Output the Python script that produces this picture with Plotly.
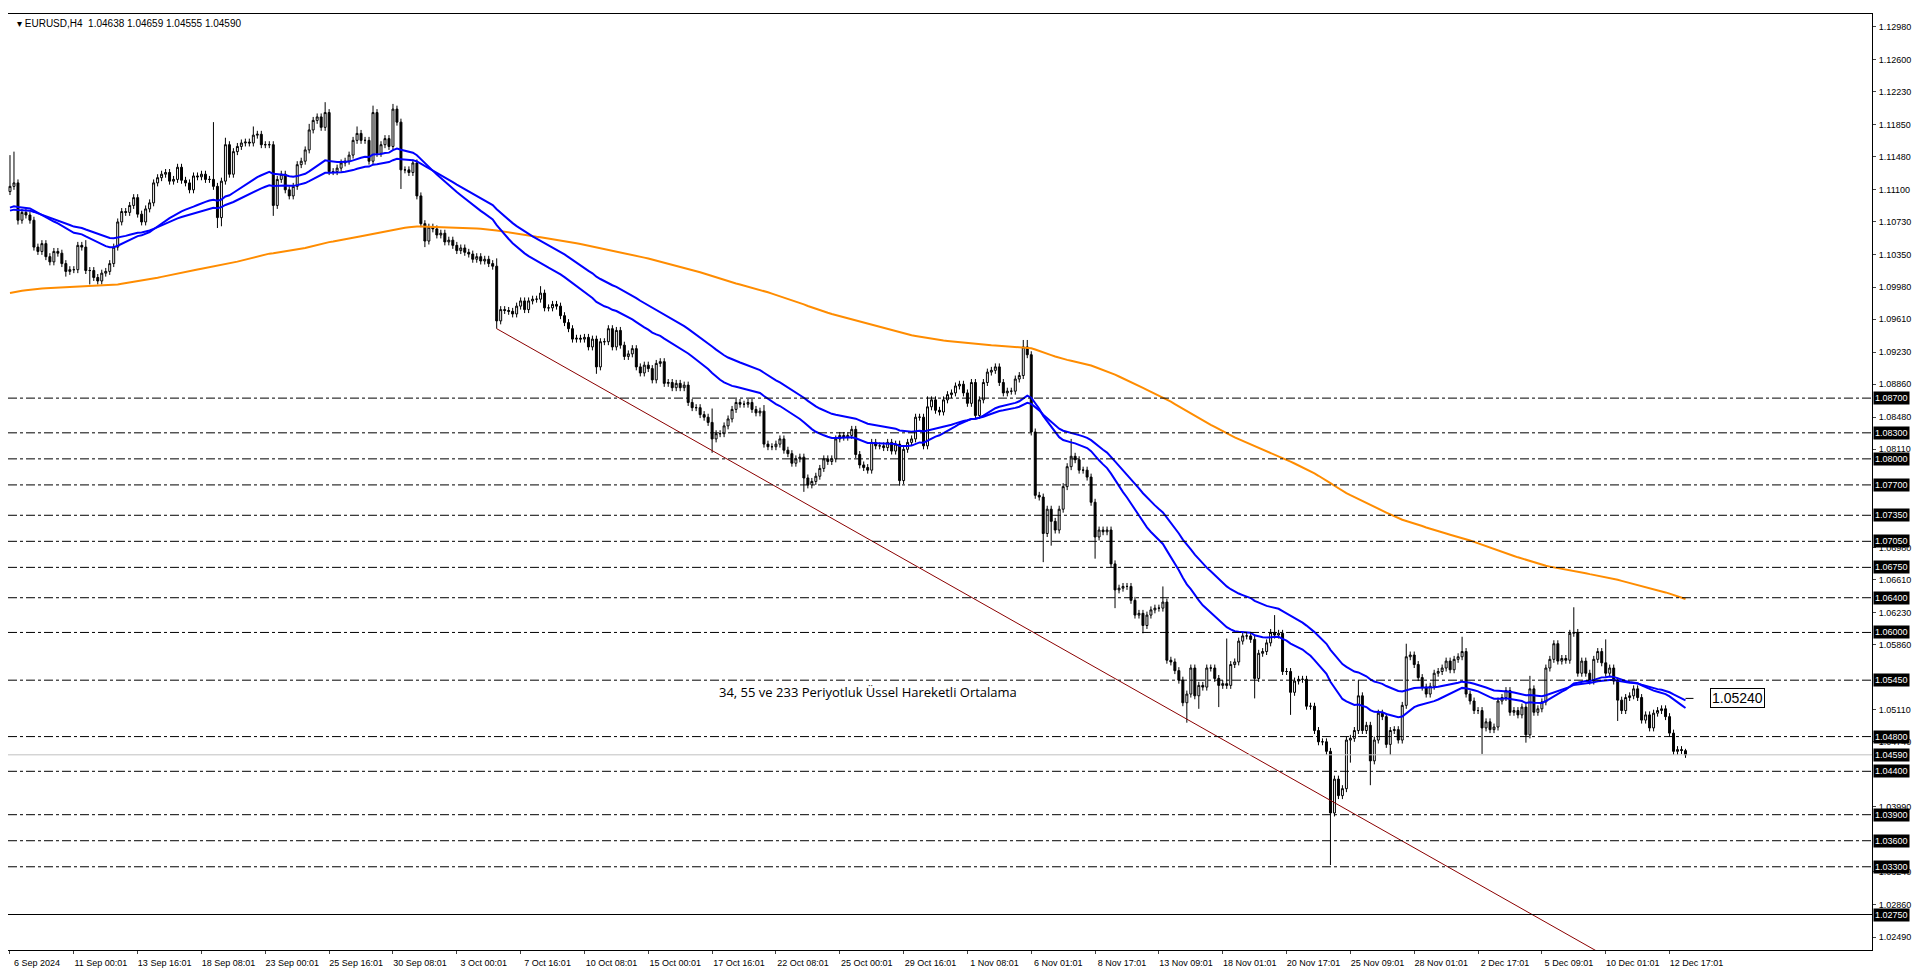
import plotly.graph_objects as go
import pandas as pd

# closes of the H4 bars, in units of 0.0001
closes = [
    11114, 11118, 11075, 11084, 11081, 11075, 11044, 11039, 11048, 11033,
    11027, 11039, 11037, 11025, 11016, 11018, 11018, 11046, 11044, 11017,
    11017, 11009, 11005, 11014, 11016, 11025, 11044, 11073, 11085, 11084,
    11092, 11101, 11082, 11073, 11088, 11095, 11118, 11124, 11128, 11130,
    11120, 11122, 11136, 11121, 11118, 11110, 11126, 11125, 11128, 11122,
    11122, 11114, 11078, 11120, 11162, 11128, 11154, 11160, 11164, 11165,
    11164, 11173, 11174, 11162, 11162, 11162, 11092, 11122, 11128, 11110,
    11103, 11114, 11139, 11143, 11156, 11179, 11190, 11194, 11182, 11199,
    11131, 11131, 11135, 11141, 11143, 11150, 11167, 11175, 11167, 11167,
    11143, 11199, 11152, 11162, 11169, 11160, 11203, 11188, 11133, 11133,
    11130, 11141, 11103, 11071, 11051, 11067, 11065, 11058, 11060, 11050,
    11052, 11046, 11040, 11043, 11038, 11036, 11030, 11033, 11028, 11030,
    11025, 11022, 10959, 10972, 10971, 10970, 10967, 10976, 10982, 10972,
    10982, 10984, 10984, 10991, 10974, 10974, 10978, 10976, 10965, 10957,
    10950, 10938, 10939, 10938, 10940, 10929, 10938, 10906, 10935, 10935,
    10950, 10929, 10948, 10931, 10918, 10921, 10927, 10906, 10899, 10908,
    10904, 10891, 10910, 10912, 10887, 10888, 10882, 10887, 10882, 10885,
    10865, 10859, 10859, 10851, 10848, 10842, 10823, 10829, 10829, 10838,
    10846, 10857, 10865, 10863, 10863, 10865, 10857, 10853, 10855, 10817,
    10814, 10814, 10817, 10823, 10810, 10806, 10795, 10800, 10802, 10778,
    10770, 10774, 10780, 10789, 10800, 10797, 10800, 10823, 10827, 10825,
    10827, 10834, 10805, 10793, 10790, 10787, 10819, 10815, 10815, 10813,
    10819, 10809, 10817, 10775, 10811, 10819, 10823, 10848, 10848, 10815,
    10860, 10868, 10856, 10854, 10868, 10874, 10876, 10884, 10886, 10876,
    10864, 10888, 10850, 10868, 10888, 10900, 10902, 10906, 10888, 10876,
    10878, 10878, 10892, 10896, 10929, 10920, 10831, 10758, 10756, 10714,
    10742, 10728, 10718, 10742, 10768, 10791, 10803, 10799, 10787, 10787,
    10779, 10750, 10710, 10718, 10716, 10718, 10679, 10649, 10651, 10653,
    10653, 10637, 10620, 10622, 10608, 10620, 10626, 10628, 10628, 10635,
    10568, 10566, 10556, 10545, 10519, 10529, 10559, 10527, 10539, 10537,
    10559, 10559, 10547, 10539, 10541, 10539, 10563, 10566, 10590, 10596,
    10596, 10592, 10547, 10576, 10578, 10588, 10600, 10597, 10599, 10555,
    10555, 10531, 10544, 10546, 10546, 10515, 10515, 10487, 10474, 10474,
    10463, 10392, 10431, 10412, 10420, 10476, 10478, 10487, 10527, 10487,
    10493, 10452, 10476, 10507, 10503, 10471, 10487, 10488, 10476, 10516,
    10572, 10574, 10563, 10548, 10537, 10529, 10538, 10553, 10555, 10559,
    10567, 10557, 10569, 10572, 10578, 10529, 10521, 10510, 10510, 10490,
    10497, 10488, 10491, 10521, 10525, 10533, 10508, 10510, 10505, 10514,
    10482, 10535, 10508, 10512, 10520, 10559, 10569, 10587, 10567, 10570,
    10568, 10599, 10600, 10553, 10567, 10553, 10544, 10569, 10578, 10565,
    10553, 10559, 10544, 10522, 10510, 10525, 10527, 10535, 10525, 10499,
    10505, 10490, 10507, 10510, 10512, 10503, 10484, 10463, 10465, 10464,
    10459,
]
first_open = 11108
usual_wick = 4  # pips beyond the body on most bars

# bars whose wicks stand out (bar index: price*10000)
high_spikes = {0: 11150, 1: 11154, 19: 11052, 51: 11188, 54: 11170, 61: 11183, 75: 11186,
               79: 11211, 87: 11183, 91: 11207, 96: 11209, 122: 11031, 133: 10999,
               176: 10858, 189: 10862, 230: 10872, 254: 10937, 255: 10937, 266: 10823,
               289: 10653, 305: 10593, 317: 10620, 338: 10545, 350: 10587, 364: 10595,
               381: 10550, 392: 10629, 400: 10592, 420: 10466}
low_spikes = {2: 11070, 14: 11010, 20: 11001, 52: 11066, 53: 11068, 66: 11080, 98: 11111,
              104: 11044, 122: 10950, 147: 10898, 176: 10807, 199: 10762, 223: 10769,
              259: 10681, 261: 10700, 272: 10685, 277: 10628, 284: 10599, 295: 10496,
              298: 10512, 303: 10514, 312: 10524, 321: 10505, 331: 10332, 336: 10450,
              341: 10424, 346: 10459, 369: 10460, 380: 10473, 403: 10498, 417: 10462,
              420: 10455}

ema_seed = {34: 1.1088, 55: 1.1085, 233: 1.0990}

level_lines = [1.0870, 1.0830, 1.0800, 1.0770, 1.0735, 1.0705, 1.0675, 1.0640,
               1.0600, 1.0545, 1.0480, 1.0440, 1.0390, 1.0360, 1.0330]
solid_level = 1.0275
bid = 1.0459

# the scale ticks that are not hidden under the level boxes
y_ticks = [1.12980, 1.12600, 1.12230, 1.11850, 1.11480, 1.11100, 1.10730, 1.10350,
           1.09980, 1.09610, 1.09230, 1.08860, 1.08480, 1.08110,
           1.06980, 1.06610, 1.06230, 1.05860, 1.05110, 1.04740,
           1.03990, 1.03240, 1.02860, 1.02490]

x_labels = ["6 Sep 2024", "11 Sep 00:01", "13 Sep 16:01", "18 Sep 08:01", "23 Sep 00:01",
            "25 Sep 16:01", "30 Sep 08:01", "3 Oct 00:01", "7 Oct 16:01", "10 Oct 08:01",
            "15 Oct 00:01", "17 Oct 16:01", "22 Oct 08:01", "25 Oct 00:01", "29 Oct 16:01",
            "1 Nov 08:01", "6 Nov 01:01", "8 Nov 17:01", "13 Nov 09:01", "18 Nov 01:01",
            "20 Nov 17:01", "25 Nov 09:01", "28 Nov 01:01", "2 Dec 17:01", "5 Dec 09:01",
            "10 Dec 01:01", "12 Dec 17:01"]

# trend line: (bar, price) end points
trend_pts = [(122, 1.0950), (400, 1.0227)]

# --- build OHLC
c = [v / 10000 for v in closes]
o = [first_open / 10000] + c[:-1]
h, l = [], []
for i in range(len(c)):
    top, bot = max(o[i], c[i]), min(o[i], c[i])
    h.append(max(high_spikes.get(i, 0) / 10000, top + usual_wick / 10000))
    l.append(min(low_spikes.get(i, 99999) / 10000, bot - usual_wick / 10000))
h[-1], l[-1] = 1.04659, 1.04555
o[-1] = 1.04638
x = list(range(len(c)))

def ema(vals, n, seed):
    k = 2 / (n + 1)
    out, e = [], seed
    for v in vals:
        e = e + k * (v - e)
        out.append(e)
    return out

fig = go.Figure()

for lv in level_lines:
    fig.add_hline(y=lv, line=dict(color="black", width=1, dash="dashdot"))
fig.add_hline(y=solid_level, line=dict(color="black", width=1))
fig.add_hline(y=bid, line=dict(color="#c0c0c0", width=1))

fig.add_trace(go.Scatter(x=[p[0] for p in trend_pts], y=[p[1] for p in trend_pts],
                         mode="lines", line=dict(color="#8b0000", width=1), hoverinfo="skip"))

fig.add_trace(go.Scatter(x=x, y=ema(c, 233, ema_seed[233]), mode="lines",
                         line=dict(color="#ff8c00", width=2)))
fig.add_trace(go.Scatter(x=x, y=ema(c, 55, ema_seed[55]), mode="lines",
                         line=dict(color="#0000ff", width=2)))
fig.add_trace(go.Scatter(x=x, y=ema(c, 34, ema_seed[34]), mode="lines",
                         line=dict(color="#0000ff", width=2)))

fig.add_trace(go.Candlestick(
    x=x, open=o, high=h, low=l, close=c,
    increasing=dict(line=dict(color="black", width=1), fillcolor="white"),
    decreasing=dict(line=dict(color="black", width=1), fillcolor="black"),
    whiskerwidth=0))

# EMA price tag
fig.add_trace(go.Scatter(x=[420, 422], y=[1.0524, 1.0524], mode="lines",
                         line=dict(color="black", width=1)))
fig.add_annotation(x=433, y=1.0524, text="1.05240", showarrow=False,
                   font=dict(family="Liberation Sans", size=14, color="black"),
                   bgcolor="white", bordercolor="black", borderwidth=1, borderpad=1)

fig.add_annotation(x=215, y=1.0531, text="34, 55 ve 233 Periyotluk Üssel Hareketli Ortalama",
                   showarrow=False, font=dict(family="Open Sans", size=13, color="black"))

fig.add_annotation(xref="paper", yref="paper", x=0.004, y=0.998, xanchor="left", yanchor="top",
                   text="▾ EURUSD,H4  1.04638 1.04659 1.04555 1.04590", showarrow=False,
                   font=dict(family="Liberation Sans", size=10, color="black"))

for lv in level_lines + [solid_level, bid]:
    fig.add_annotation(xref="paper", x=1, y=lv, xanchor="left", xshift=1, text="%.5f" % lv,
                       showarrow=False, bgcolor="black", borderpad=1,
                       font=dict(family="Liberation Sans", size=9, color="white"))

fig.update_layout(
    width=1912, height=968, showlegend=False,
    plot_bgcolor="white", paper_bgcolor="white",
    margin=dict(l=0, r=48, t=6, b=26, autoexpand=False),
    xaxis=dict(range=[-0.5, 466.75], rangeslider=dict(visible=False), showgrid=False,
               zeroline=False, tickvals=[16 * k for k in range(len(x_labels))],
               ticktext=x_labels, ticks="outside", ticklen=3, ticklabelshift=27,
               ticklabelstandoff=1,
               tickfont=dict(family="Liberation Sans", size=9, color="black"),
               showline=True, linecolor="black", mirror=True),
    yaxis=dict(range=[1.02341, 1.13126], side="right", showgrid=False, zeroline=False,
               tickvals=y_ticks, ticktext=["%.5f" % v for v in y_ticks],
               ticks="outside", ticklen=3, ticklabelstandoff=1,
               tickfont=dict(family="Liberation Sans", size=9, color="black"),
               showline=True, linecolor="black", mirror=True),
)

fig.write_html("out.html")
